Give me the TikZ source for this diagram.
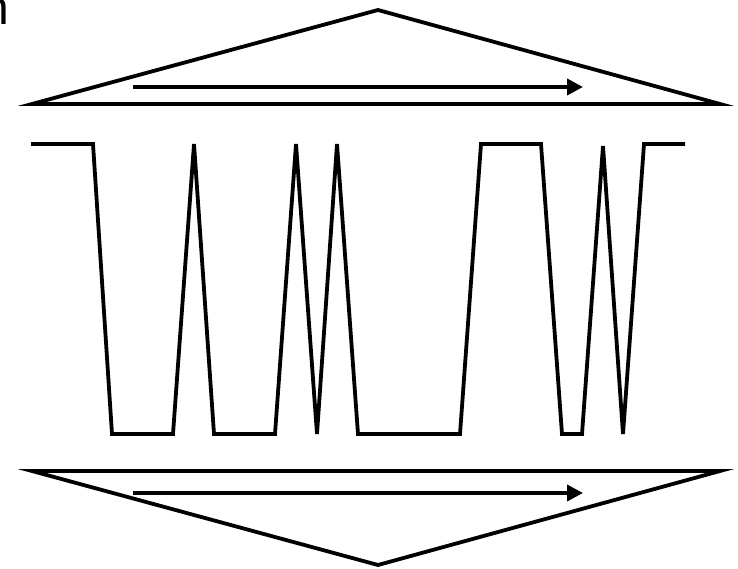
\documentclass[tikz,border=0pt]{standalone}
\usepackage{fontspec}
\setmainfont{Liberation Sans}
\usetikzlibrary{arrows.meta}
\begin{document}
\begin{tikzpicture}[x=1pt,y=-1pt,
  thick line/.style={line width=3.8pt, line join=miter},
  flow arrow/.style={line width=3.8pt, -{Triangle[length=16pt,width=16pt]}}]
\useasboundingbox (0,0) rectangle (738,569);
% partial glyph at top-left
\node[anchor=base west, inner sep=0pt, font=\fontsize{48}{48}\selectfont] (glyph) at (-17.5,25) {n};
% top triangle
\coordinate (tA) at (378,10);
\coordinate (tL) at (32,104);
\coordinate (tR) at (720,104);
\draw[thick line] (tL) -- (tA) -- (tR) -- cycle;
\coordinate (ta1) at (133,87);
\coordinate (ta2) at (583,87);
\draw[flow arrow] (ta1) -- (ta2);
% bottom triangle
\coordinate (bA) at (378,565);
\coordinate (bL) at (32,471);
\coordinate (bR) at (720,471);
\draw[thick line] (bL) -- (bA) -- (bR) -- cycle;
\coordinate (ba1) at (133,493);
\coordinate (ba2) at (583,493);
\draw[flow arrow] (ba1) -- (ba2);
% waveform
\draw[thick line] (31,144) -- (93,144) -- (112,434) -- (173,434) -- (194,144)
  -- (214,434) -- (275,434) -- (296,144) -- (317,434) -- (337,144) -- (358,434)
  -- (460,434) -- (481,144) -- (541,144) -- (562,434) -- (582,434) -- (603,146)
  -- (623,434) -- (644,144) -- (685,144);
\end{tikzpicture}
\end{document}
